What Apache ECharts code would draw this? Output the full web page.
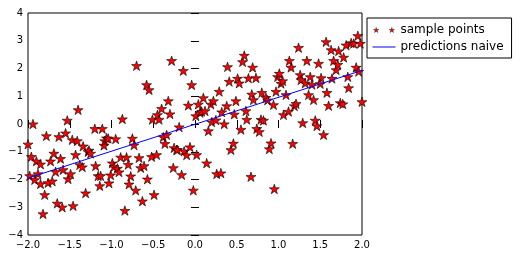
<!DOCTYPE html>
<html>
<head>
<meta charset="utf-8">
<script src="https://cdn.jsdelivr.net/npm/echarts@6/dist/echarts.min.js"></script>
<style>
html,body{margin:0;padding:0;background:#fff;}
#chart{width:520px;height:256px;}
</style>
</head>
<body>
<div id="chart"></div>
<script>
// Sample points, [x, y]
var pointsLeft = [[-1.94,0.00],[-2.00,-0.73],[-1.96,-1.18],[-1.98,-1.87],[-1.92,-2.01],[-1.90,-1.34],[-1.88,-1.80],[-1.85,-1.45],[-1.85,-2.16],[-1.80,-2.55],[-1.82,-3.24],[-1.78,-0.43],[-1.76,-2.12],[-1.73,-1.34],[-1.71,-2.06],[-1.69,-1.06],[-1.67,-1.72],[-1.65,-2.86],[-1.63,-0.46],[-1.61,-1.25],[-1.59,-3.00],[-1.58,-1.65],[-1.55,-0.33],[-1.53,0.13],[-1.52,-1.98],[-1.49,-1.80],[-1.47,-0.57],[-1.46,-2.95],[-1.43,-1.11],[-1.41,-0.61],[-1.40,0.51],[-1.38,-1.47],[-1.35,-1.55],[-1.34,-0.80],[-1.31,-2.49],[-1.28,-1.00],[-1.27,-0.95],[-1.25,-1.06],[-1.20,-0.17],[-1.19,-1.51],[-1.16,-1.87],[-1.14,-2.23],[-1.13,-1.87],[-1.11,-0.17],[-1.09,-0.77],[-1.08,-0.61],[-1.06,-0.51],[-1.04,-0.52],[-1.03,-2.13],[-1.01,-1.84],[-0.99,-1.41],[-0.97,-1.54],[-0.95,-0.54],[-0.93,-1.60],[-0.91,-1.73],[-0.89,-1.20],[-0.87,0.18],[-0.84,-3.12],[-0.82,-1.20],[-0.80,-1.46],[-0.79,-2.17],[-0.77,-1.88],[-0.75,-0.52]];
var pointsMiddle = [[-0.73,-0.76],[-0.71,-2.39],[-0.70,2.10],[-0.67,-1.22],[-0.65,-1.58],[-0.63,-2.78],[-0.61,-1.51],[-0.58,1.41],[-0.57,-1.99],[-0.55,1.23],[-0.52,-1.18],[-0.51,0.16],[-0.49,-2.55],[-0.46,-1.11],[-0.45,0.33],[-0.43,0.16],[-0.40,0.55],[-0.38,-0.47],[-0.36,-0.71],[-0.34,-0.39],[-0.32,0.83],[-0.30,0.36],[-0.28,2.28],[-0.26,-1.58],[-0.25,-0.86],[-0.22,-0.93],[-0.21,-0.93],[-0.19,-0.11],[-0.16,-1.83],[-0.14,1.92],[-0.13,-0.98],[-0.10,-1.12],[-0.08,0.67],[-0.06,-0.83],[-0.04,1.41],[-0.02,-2.39],[0.01,0.29],[0.02,-1.11],[0.04,0.71],[0.06,0.41],[0.08,0.45],[0.10,0.94],[0.12,0.47],[0.14,-1.41],[0.16,-0.25],[0.19,0.71],[0.20,0.07],[0.22,0.83],[0.25,0.14],[0.26,-1.80],[0.29,1.17],[0.31,-1.77],[0.32,0.43],[0.35,0.00],[0.38,0.65],[0.39,2.06],[0.41,1.53],[0.43,-0.93],[0.46,-0.70],[0.47,0.35],[0.49,0.83],[0.51,1.64],[0.53,1.47],[0.55,-0.20],[0.57,2.24],[0.59,2.47],[0.62,0.16],[0.64,1.65],[0.67,-1.90],[0.69,2.04]];
var pointsRight = [[0.61,0.47],[0.68,1.07],[0.70,0.87],[0.73,1.66],[0.74,-0.17],[0.77,-0.28],[0.79,0.16],[0.82,0.13],[0.80,1.13],[0.85,0.95],[0.87,0.86],[0.89,-0.90],[0.91,-0.69],[0.94,0.69],[0.95,-2.34],[0.97,1.17],[0.99,1.70],[1.01,1.82],[1.03,1.46],[1.05,1.55],[1.06,0.33],[1.09,1.05],[1.12,0.45],[1.13,2.28],[1.15,2.04],[1.17,-0.71],[1.19,0.65],[1.21,0.73],[1.24,2.75],[1.26,1.77],[1.27,1.59],[1.29,0.04],[1.32,1.47],[1.34,2.28],[1.36,1.05],[1.38,1.70],[1.40,1.42],[1.42,0.87],[1.44,0.13],[1.46,-0.07],[1.48,2.18],[1.51,1.66],[1.50,1.45],[1.54,-0.39],[1.57,2.96],[1.58,1.13],[1.60,0.66],[1.63,2.67],[1.64,1.64],[1.66,2.28],[1.69,1.95],[1.71,2.14],[1.72,2.63],[1.74,0.76],[1.77,0.72],[1.78,2.40],[1.81,2.84],[1.83,1.70],[1.84,1.30],[1.87,2.92],[1.90,2.90],[1.93,2.04],[1.95,3.18],[1.96,1.89],[1.98,2.90],[2.00,0.80]];

// Naive prediction line endpoints
var lineX = [-2.0, 2.0];
var lineY = [-1.95, 1.93];

var seriesNames = ['sample points', 'predictions naive'];

var xMin = -2, xMax = 2, xStep = 0.5;
var yMin = -4, yMax = 4, yStep = 1;

var STAR = 'path://M50 0 L61.23 34.55 L97.55 34.55 L68.17 55.9 L79.39 90.45 L50 69.1 L20.61 90.45 L31.83 55.9 L2.45 34.55 L38.77 34.55 Z';
var TWO_STARS = 'path://M50 0 L61.23 34.55 L97.55 34.55 L68.17 55.9 L79.39 90.45 L50 69.1 L20.61 90.45 L31.83 55.9 L2.45 34.55 L38.77 34.55 Z' +
  'M333 0 L344.23 34.55 L380.55 34.55 L351.17 55.9 L362.39 90.45 L333 69.1 L303.61 90.45 L314.83 55.9 L285.45 34.55 L321.77 34.55 Z';

function minus(s){ return s.replace('-', '\u2212'); }

var samples = pointsLeft.concat(pointsMiddle, pointsRight);
var lineData = lineX.map(function(x, i){ return [x, lineY[i]]; });

var FONT = 'DejaVu Sans';
var chart = echarts.init(document.getElementById('chart'), null, {renderer:'canvas'});

var tickStyle = {show:true, inside:true, length:4, lineStyle:{color:'#000', width:1}};

chart.setOption({
  animation: false,
  backgroundColor: '#fff',
  grid: {left:28, top:13, width:334, height:222, show:true, borderColor:'#000', borderWidth:1, backgroundColor:'transparent'},
  legend: {
    orient: 'vertical',
    left: 367, top: 18,
    padding: [6, 8, 5, 5],
    itemGap: 5,
    itemWidth: 23, itemHeight: 5,
    borderColor: '#000', borderWidth: 1, backgroundColor: '#fff',
    textStyle: {fontFamily: FONT, fontSize: 12, color: '#000'},
    data: [
      {name: seriesNames[0], icon: TWO_STARS, itemStyle:{color:'#ff0000', borderColor:'#000', borderWidth:0.4}},
      {name: seriesNames[1], lineStyle:{width:1, color:'#0000ff'}, itemStyle:{color:'rgba(0,0,0,0)', borderColor:'rgba(0,0,0,0)', borderWidth:0}}
    ]
  },
  xAxis: [{
    type:'value', min:xMin, max:xMax, interval:xStep,
    axisLine:{show:false}, splitLine:{show:false},
    axisTick: tickStyle,
    axisLabel:{fontFamily:FONT, fontSize:10, color:'#000', margin:5, formatter:function(v){return minus(v.toFixed(1));}}
  },{
    type:'value', position:'top', min:xMin, max:xMax, interval:xStep,
    axisLine:{show:false}, splitLine:{show:false},
    axisTick: tickStyle, axisLabel:{show:false}
  }],
  yAxis: [{
    type:'value', min:yMin, max:yMax, interval:yStep,
    axisLine:{show:false}, splitLine:{show:false},
    axisTick: tickStyle,
    axisLabel:{fontFamily:FONT, fontSize:10, color:'#000', margin:5, formatter:function(v){return minus(String(v));}}
  },{
    type:'value', position:'right', min:yMin, max:yMax, interval:yStep,
    axisLine:{show:false}, splitLine:{show:false},
    axisTick: tickStyle, axisLabel:{show:false}
  }],
  series: [{
    name: seriesNames[0],
    type: 'scatter',
    data: samples,
    symbol: STAR,
    symbolSize: 10,
    symbolKeepAspect: true,
    itemStyle: {color:'#ff0000', borderColor:'#000', borderWidth:0.6, opacity:1},
    z: 3
  },{
    name: seriesNames[1],
    type: 'line',
    data: lineData,
    symbol: 'none',
    showSymbol: false,
    lineStyle: {color:'#0000ff', width:1},
    itemStyle: {color:'#0000ff'},
    z: 4
  }]
});
</script>
</body>
</html>
